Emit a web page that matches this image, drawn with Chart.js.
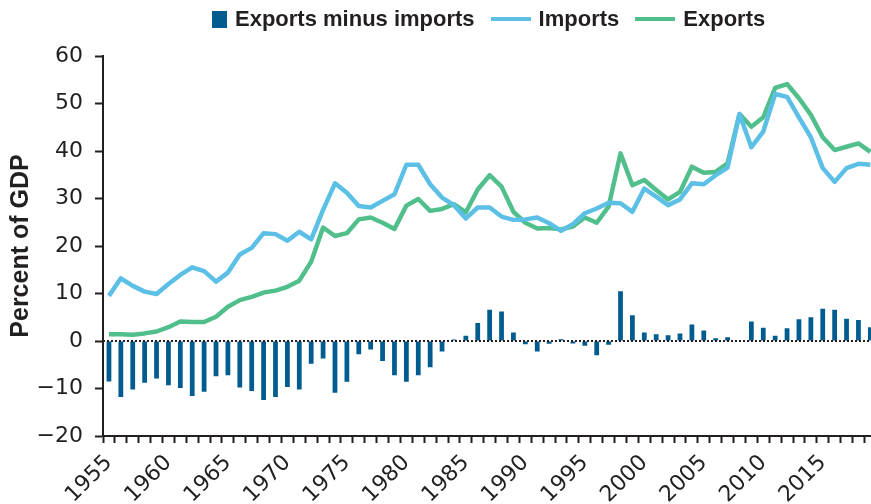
<!DOCTYPE html>
<html>
<head>
<meta charset="utf-8">
<title>Exports and imports, percent of GDP</title>
<script src="https://cdn.jsdelivr.net/npm/chart.js"></script>
<style>
    body { margin: 0; overflow: hidden; background: #fff; }
    #wrap { position: relative; width: 896px; height: 504px; }
    #legend {
        position: absolute; top: 6px; left: 212px;
        display: flex; align-items: center; white-space: nowrap;
        font: bold 22px "Liberation Sans", Arial, sans-serif; line-height: 26px; color: #231f20;
    }
    #legend .box { display: inline-block; width: 15px; height: 17px; margin-right: 8px; }
    #legend .line { display: inline-block; width: 40px; height: 4px; margin: 0 8px 0 16px; }
</style>
</head>
<body>
<div id="wrap">
    <div id="legend"></div>
    <!-- wider than the window: the reference crops the last year at the right edge -->
    <canvas id="myChart" width="896" height="504"></canvas>
</div>
<script>
    // years shown on the x axis
    const years = [
        '1955','1956','1957','1958','1959','1960','1961','1962','1963','1964',
        '1965','1966','1967','1968','1969','1970','1971','1972','1973','1974',
        '1975','1976','1977','1978','1979','1980','1981','1982','1983','1984',
        '1985','1986','1987','1988','1989','1990','1991','1992','1993','1994',
        '1995','1996','1997','1998','1999','2000','2001','2002','2003','2004',
        '2005','2006','2007','2008','2009','2010','2011','2012','2013','2014',
        '2015','2016','2017','2018','2019'
    ];
    const xTickLabels = ['1955','1960','1965','1970','1975','1980','1985','1990','1995','2000','2005','2010','2015'];
    const yTicks = [-20, -10, 0, 10, 20, 30, 40, 50, 60];

    // percent of GDP
    const imports = [
        9.5, 13.2, 11.6, 10.4, 9.9, 12.0, 13.9, 15.5, 14.7, 12.5,
        14.4, 18.2, 19.6, 22.7, 22.5, 21.1, 23.0, 21.4, 27.6, 33.2,
        31.2, 28.4, 28.1, 29.5, 30.9, 37.1, 37.1, 33.0, 30.2, 28.6,
        25.8, 28.1, 28.1, 26.2, 25.5, 25.6, 26.0, 24.8, 23.2, 24.6,
        26.9, 27.9, 29.1, 29.0, 27.2, 32.1, 30.4, 28.6, 29.8, 33.2,
        33.0, 34.9, 36.5, 47.8, 40.8, 44.1, 52.0, 51.4, 47.1, 42.9,
        36.4, 33.5, 36.4, 37.3, 37.1
    ];
    const exports = [
        1.4, 1.4, 1.3, 1.6, 2.0, 2.9, 4.1, 4.0, 4.0, 5.1,
        7.2, 8.6, 9.3, 10.2, 10.6, 11.4, 12.7, 16.7, 23.9, 22.1,
        22.7, 25.6, 26.0, 24.9, 23.6, 28.5, 29.9, 27.4, 27.8, 28.8,
        27.1, 31.9, 34.9, 32.5, 27.2, 24.9, 23.7, 23.8, 23.5, 24.1,
        26.0, 24.9, 28.3, 39.5, 32.8, 33.9, 31.8, 29.8, 31.4, 36.7,
        35.4, 35.6, 37.4, 47.8, 45.1, 47.1, 53.3, 54.1, 51.1, 47.6,
        42.9, 40.2, 40.9, 41.6, 39.8
    ];
    const netExports = [
        -8.5, -11.8, -10.2, -8.8, -7.9, -9.3, -9.9, -11.6, -10.7, -7.4,
        -7.2, -9.8, -10.5, -12.4, -11.8, -9.7, -10.2, -4.8, -3.7, -10.9,
        -8.6, -2.8, -1.8, -4.2, -7.2, -8.6, -7.2, -5.5, -2.2, 0.3,
        1.1, 3.8, 6.6, 6.2, 1.8, -0.7, -2.2, -0.6, 0.35, -0.5,
        -1.0, -3.0, -0.8, 10.5, 5.4, 1.8, 1.4, 1.2, 1.6, 3.5,
        2.2, 0.6, 0.8, 0.1, 4.1, 2.8, 1.1, 2.7, 4.6, 5.0,
        6.8, 6.6, 4.7, 4.4, 2.9
    ];

    const ink = '#231f20';
    const tickFont = { family: '"DejaVu Sans", sans-serif', size: 22 };

    // dotted line at zero
    const zeroLine = {
        id: 'zeroLine',
        afterDatasetsDraw(chart) {
            const { ctx, chartArea, scales } = chart;
            const y = scales.y.getPixelForValue(0);
            ctx.save();
            ctx.strokeStyle = ink;
            ctx.lineWidth = 2;
            ctx.setLineDash([2, 2]);
            ctx.beginPath();
            ctx.moveTo(chartArea.left, y);
            ctx.lineTo(chartArea.right, y);
            ctx.stroke();
            ctx.restore();
        }
    };

    const ctx = document.getElementById('myChart').getContext('2d');
    const myChart = new Chart(ctx, {
        type: 'bar',
        data: {
            labels: years,
            datasets: [
                {
                    label: 'Exports minus imports',
                    data: netExports,
                    backgroundColor: '#005b8f',
                    barPercentage: 0.4,
                    categoryPercentage: 1.0,
                    order: 2,
                },
                {
                    type: 'line',
                    label: 'Imports',
                    data: imports,
                    borderColor: '#5bbfe6',
                    backgroundColor: '#5bbfe6',
                    borderWidth: 4.5,
                    borderJoinStyle: 'round',
                    pointRadius: 0,
                    tension: 0,
                    order: 1,
                },
                {
                    type: 'line',
                    label: 'Exports',
                    data: exports,
                    borderColor: '#51bf8b',
                    backgroundColor: '#51bf8b',
                    borderWidth: 4.5,
                    borderJoinStyle: 'round',
                    pointRadius: 0,
                    tension: 0,
                    order: 1,
                },
            ],
        },
        options: {
            responsive: false,
            animation: false,
            devicePixelRatio: 1,
            layout: { autoPadding: false, padding: { top: 56, left: 0, right: 0, bottom: 0 } },
            plugins: {
                legend: { display: false },
                tooltip: { enabled: false },
            },
            scales: {
                x: {
                    offset: true,
                    grid: { offset: true, drawOnChartArea: false, tickLength: 7, tickWidth: 2, tickColor: ink },
                    border: { color: ink, width: 2 },
                    ticks: {
                        autoSkip: false,
                        minRotation: 45,
                        maxRotation: 45,
                        padding: 7,
                        color: ink,
                        font: tickFont,
                        callback: (v, i) => xTickLabels.includes(years[i]) ? years[i] : '',
                    },
                    afterFit: s => { s.height = 68; },
                },
                y: {
                    min: yTicks[0],
                    max: yTicks[yTicks.length - 1],
                    afterBuildTicks: s => { s.ticks = yTicks.map(v => ({ value: v })); },
                    grid: { drawOnChartArea: false, tickLength: 8, tickWidth: 2, tickColor: ink },
                    border: { color: ink, width: 2 },
                    ticks: {
                        color: ink,
                        font: tickFont,
                        padding: 12,
                        callback: v => v < 0 ? '\u2212' + Math.abs(v) : String(v),
                    },
                    title: {
                        display: true,
                        text: 'Percent of GDP',
                        color: ink,
                        font: { family: '"Liberation Sans", Arial, sans-serif', size: 25, weight: 'bold' },
                        padding: { top: 6, bottom: 0 },
                    },
                    afterFit: s => { s.width = 103; },
                },
            },
        },
        plugins: [zeroLine],
    });

    // legend built from the datasets
    const legend = document.getElementById('legend');
    myChart.data.datasets.forEach(ds => {
        const mark = document.createElement('span');
        mark.className = ds.type === 'line' ? 'line' : 'box';
        mark.style.background = ds.type === 'line' ? ds.borderColor : ds.backgroundColor;
        const text = document.createElement('span');
        text.textContent = ds.label;
        legend.appendChild(mark);
        legend.appendChild(text);
    });
</script>
</body>
</html>
